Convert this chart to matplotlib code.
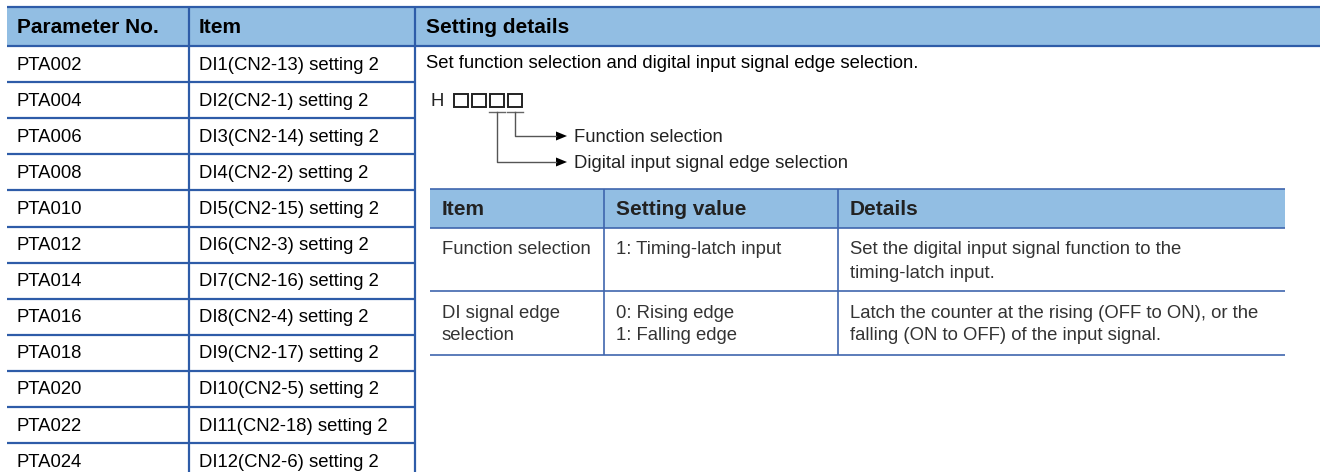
import matplotlib.pyplot as plt
from matplotlib.patches import Rectangle, Polygon

plt.rcParams['font.family'] = ['Liberation Sans', 'DejaVu Sans']

# -----------------------------
# 1) Table content
# -----------------------------
headers = ["Parameter No.", "Item", "Setting details"]
param_nos = ["PTA002", "PTA004", "PTA006", "PTA008", "PTA010", "PTA012",
             "PTA014", "PTA016", "PTA018", "PTA020", "PTA022", "PTA024"]
items = ["DI1(CN2-13) setting 2", "DI2(CN2-1) setting 2", "DI3(CN2-14) setting 2",
         "DI4(CN2-2) setting 2", "DI5(CN2-15) setting 2", "DI6(CN2-3) setting 2",
         "DI7(CN2-16) setting 2", "DI8(CN2-4) setting 2", "DI9(CN2-17) setting 2",
         "DI10(CN2-5) setting 2", "DI11(CN2-18) setting 2", "DI12(CN2-6) setting 2"]
intro = "Set function selection and digital input signal edge selection."
code_prefix = "H"
digit_labels = ["Function selection", "Digital input signal edge selection"]

sub_headers = ["Item", "Setting value", "Details"]
sub_items = ["Function selection", "DI signal edge\nselection"]
sub_values = ["1: Timing-latch input", "0: Rising edge\n1: Falling edge"]
sub_details = ["Set the digital input signal function to the\ntiming-latch input.",
               "Latch the counter at the rising (OFF to ON), or the\nfalling (ON to OFF) of the input signal."]

# -----------------------------
# 2) Layout (pixels)
# -----------------------------
W, H = 1320, 472
line_c = "#2E5CA8"
head_c = "#92BEE3"
fs = 13.3      # body text
hfs = 15.0     # header text

fig = plt.figure(figsize=(W / 100, H / 100), dpi=100)
ax = fig.add_axes([0, 0, 1, 1])
ax.set_xlim(0, W)
ax.set_ylim(H, 0)
ax.axis("off")

left, c1, c2, right = 7, 189, 415, W
top, head_bot, row_h = 7, 46, 36.1

# outer header
ax.add_patch(Rectangle((left, top), right - left, head_bot - top, color=head_c, lw=0))
for x, t in zip([17, 199, 426], headers):
    ax.text(x, (top + head_bot) / 2 + 1, t, fontsize=hfs, fontweight="bold",
            va="center", ha="left", color="black")
ax.hlines([top, head_bot], left, right, color=line_c, lw=1.6)

# outer rows
for i, (p, it) in enumerate(zip(param_nos, items)):
    yc = head_bot + row_h * (i + 0.5)
    ax.text(17, yc + 1, p, fontsize=fs, va="center", color="black")
    ax.text(199, yc + 1, it, fontsize=fs, va="center", color="black")
    ax.hlines(head_bot + row_h * (i + 1), left, c2, color=line_c, lw=1.6)
ax.vlines([c1, c2], top, H, color=line_c, lw=1.6)

# setting details text
ax.text(426, 64, intro, fontsize=fs, va="center", color="black")
ax.text(430, 101, code_prefix, fontsize=fs, va="center", color="#222222")

# code digit boxes
for k in range(4):
    ax.add_patch(Rectangle((454 + 18 * k, 94), 14, 13, fill=False,
                           ec="#222222", lw=1.4))

# leader lines to labels
for bx, ly, lab in [(515, 136, digit_labels[0]), (497, 162, digit_labels[1])]:
    ax.plot([bx - 8, bx + 8], [112, 112], color="#666666", lw=1.0)
    ax.plot([bx, bx, 556], [112, ly, ly], color="#555555", lw=1.0)
    ax.add_patch(Polygon([[556, ly - 4.5], [567, ly], [556, ly + 4.5]], color="black", lw=0))
    ax.text(574, ly + 1, lab, fontsize=fs, va="center", color="#222222")

# inner table
il, ic1, ic2, ir = 430, 604, 838, 1285
it_top, it_head, row_bots = 189, 228, [291, 355]
ax.add_patch(Rectangle((il, it_top), ir - il, it_head - it_top, color=head_c, lw=0))
for x, t in zip([442, 616, 850], sub_headers):
    ax.text(x, (it_top + it_head) / 2 + 1, t, fontsize=hfs, fontweight="bold",
            va="center", color="#222222")
ax.hlines([it_top, it_head] + row_bots, il, ir, color="#3F66AE", lw=1.2)
ax.vlines([ic1, ic2], it_top, row_bots[-1], color="#3F66AE", lw=1.2)

row_tops = [it_head, row_bots[0]]
for rt, a, b, c in zip(row_tops, sub_items, sub_values, sub_details):
    for x, t in zip([442, 616, 850], [a, b, c]):
        for j, line in enumerate(t.split("\n")):
            ax.text(x, rt + 22 + 23 * j, line, fontsize=fs, va="center", color="#333333")

fig.savefig("out.png", dpi=100)
